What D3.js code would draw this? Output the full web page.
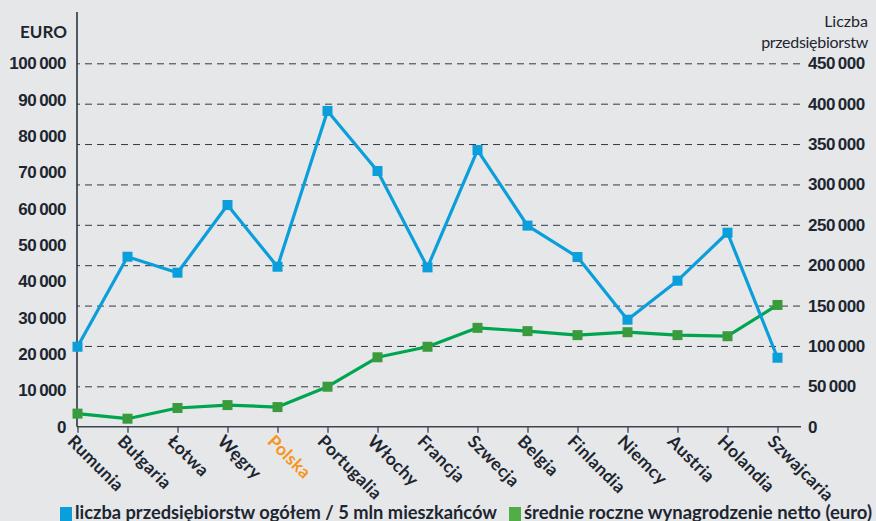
<!DOCTYPE html>
<html><head><meta charset="utf-8">
<script src="https://cdn.jsdelivr.net/npm/d3@7"></script>
<style>
html,body{margin:0;padding:0;background:#e6e7e9;}
svg{display:block;font-family:Lato,"Open Sans",sans-serif;}
</style></head>
<body><svg id="c" width="876" height="521"></svg>
<script>
const categories = ["Rumunia","Bułgaria","Łotwa","Węgry","Polska","Portugalia","Włochy","Francja","Szwecja","Belgia","Finlandia","Niemcy","Austria","Holandia","Szwajcaria"];
const firmsPer5m = [99000,210500,190700,274500,198100,391000,316600,197300,342600,249000,210100,132500,180800,240200,85400];
const netSalaryEur = [3600,2200,5150,5950,5400,11000,19100,22000,27200,26300,25200,26000,25200,24900,33500];
const leftTicks = [0,10000,20000,30000,40000,50000,60000,70000,80000,90000,100000];
const rightTicks = [0,50000,100000,150000,200000,250000,300000,350000,400000,450000];
const highlight = "Polska";

const svg = d3.select("#c");
const ink = "#1d2630", blue = "#0a9edb", green = "#00a54f", greenMk = "#3a9b3c", orange = "#f7941d";
const x0 = 77, x1 = 800, yTop = 63.3, yBot = 426.7;

const x = d3.scalePoint().domain(categories).range([77.5, 777.5]);
const yR = d3.scaleLinear().domain([0,450000]).range([yBot, yTop]);
const yL = d3.scaleLinear().domain([0,100000]).range([yBot, yTop]);
const fmt = v => v === 0 ? "0" : d3.format(",")(v).replace(/,/g, "\u2009");

// gridlines
const grid = svg.append("g").attr("transform", `translate(${x1},0)`)
  .call(d3.axisLeft(yR).tickValues(rightTicks.filter(d=>d>0)).tickSize(x1-x0).tickFormat(""));
grid.select(".domain").remove();
grid.selectAll("line").attr("stroke", "#2f3a44").attr("stroke-width", 1).attr("stroke-dasharray", "7,5");

// right axis labels
const ra = svg.append("g").attr("transform", `translate(${x1},0)`)
  .call(d3.axisRight(yR).tickValues(rightTicks).tickSize(0).tickPadding(8).tickFormat(fmt));
ra.select(".domain").remove();
ra.selectAll("text").attr("fill", ink).attr("font-size", 17).attr("font-weight", 700).attr("letter-spacing", -0.5);

// left axis
const la = svg.append("g").attr("transform", `translate(${x0},0)`)
  .call(d3.axisLeft(yL).tickValues(leftTicks).tickSize(0).tickPadding(11).tickFormat(fmt));
la.select(".domain").remove();
la.selectAll("text").attr("fill", ink).attr("font-size", 17).attr("font-weight", 700).attr("letter-spacing", -0.5);
svg.append("line").attr("x1", x0).attr("x2", x0).attr("y1", 12).attr("y2", yBot).attr("stroke", "#2b3540").attr("stroke-width", 1.6);

// bottom axis
const ba = svg.append("g").attr("transform", `translate(0,${yBot})`)
  .call(d3.axisBottom(x).tickSize(6).tickFormat(""));
ba.select(".domain").remove();
ba.selectAll("line").attr("stroke", "#2b3540").attr("stroke-width", 1.2);
svg.append("line").attr("x1", x0).attr("x2", 801).attr("y1", yBot).attr("y2", yBot).attr("stroke", "#3b4550").attr("stroke-width", 1.4);

// category labels
svg.append("g").selectAll("text").data(categories).join("text")
  .attr("transform", d => `translate(${x(d)-2},${yBot+7}) rotate(45)`)
  .attr("dy", "0.72em").attr("font-size", 17.5).attr("font-weight", 700).attr("letter-spacing", 0.3)
  .attr("fill", d => d === highlight ? orange : ink).text(d => d);

// axis titles
svg.append("text").attr("x", 67).attr("y", 38).attr("text-anchor", "end").attr("font-size", 17).attr("font-weight", 700).attr("fill", ink).text("EURO");
svg.append("text").attr("x", 868).attr("y", 27).attr("text-anchor", "end").attr("font-size", 16).attr("fill", ink).text("Liczba");
svg.append("text").attr("x", 868).attr("y", 48).attr("text-anchor", "end").attr("font-size", 16).attr("fill", ink).attr("letter-spacing", -0.3).text("przedsiębiorstw");

// lines
const lineR = d3.line().x((d,i)=>x(categories[i])).y(d=>yR(d));
const lineL = d3.line().x((d,i)=>x(categories[i])).y(d=>yL(d));
svg.append("path").datum(netSalaryEur).attr("d", lineL).attr("fill","none").attr("stroke", green).attr("stroke-width", 3.2).attr("stroke-linejoin","round");
svg.append("g").selectAll("rect").data(netSalaryEur).join("rect")
  .attr("x",(d,i)=>x(categories[i])-5).attr("y",d=>yL(d)-5).attr("width",10).attr("height",10).attr("fill", greenMk);
svg.append("path").datum(firmsPer5m).attr("d", lineR).attr("fill","none").attr("stroke", blue).attr("stroke-width", 3.2).attr("stroke-linejoin","round");
svg.append("g").selectAll("rect").data(firmsPer5m).join("rect")
  .attr("x",(d,i)=>x(categories[i])-5).attr("y",d=>yR(d)-5).attr("width",10).attr("height",10).attr("fill", blue);

// legend
const lg = svg.append("g");
lg.append("rect").attr("x",60).attr("y",507).attr("width",12).attr("height",14).attr("fill", blue);
lg.append("text").attr("x",75).attr("y",519).attr("font-size",18.5).attr("font-weight",700).attr("fill",ink)
  .attr("textLength",422).attr("lengthAdjust","spacingAndGlyphs").text("liczba przedsiębiorstw ogółem / 5 mln mieszkańców");
lg.append("rect").attr("x",509).attr("y",507).attr("width",12).attr("height",14).attr("fill", "#52ad45");
lg.append("text").attr("x",524).attr("y",519).attr("font-size",18.5).attr("font-weight",700).attr("fill",ink)
  .attr("textLength",348).attr("lengthAdjust","spacingAndGlyphs").text("średnie roczne wynagrodzenie netto (euro)");
</script></body></html>
